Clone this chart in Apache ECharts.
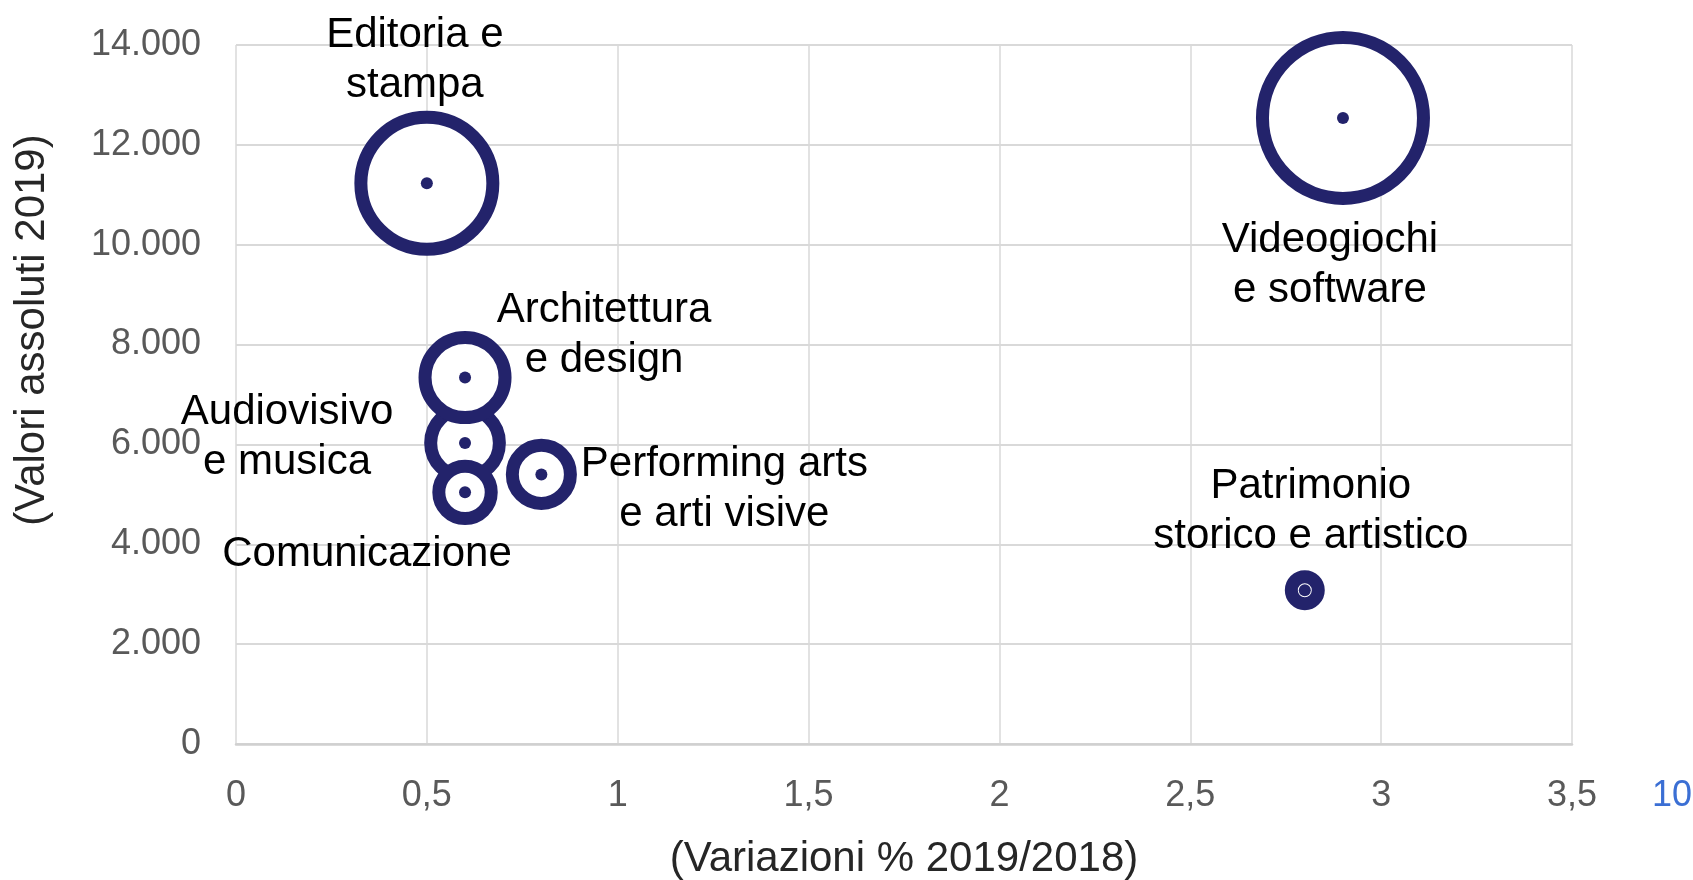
<!DOCTYPE html>
<html>
<head>
<meta charset="utf-8">
<script src="https://cdn.jsdelivr.net/npm/echarts@6.0.0/dist/echarts.min.js"></script>
<style>
  html, body { margin: 0; padding: 0; background: #fff; }
  #chart { width: 1693px; height: 880px; }
</style>
</head>
<body>
<div id="chart"></div>
<script>
// Settori (ordine di disegno: le bolle dopo stanno sopra)
const settori = [
  'Audiovisivo\ne musica',
  'Architettura\ne design',
  'Comunicazione',
  'Editoria e\nstampa',
  'Patrimonio\nstorico e artistico',
  'Performing arts\ne arti visive',
  'Videogiochi\ne software'
];
// (Variazioni % 2019/2018)
const variazioni = [0.6, 0.6, 0.6, 0.5, 2.8, 0.8, 2.9];
// (Valori assoluti 2019)
const valori = [6030, 7340, 5040, 11230, 3080, 5400, 12540];
// Dimensione relativa della bolla (area, max = 100)
const dimensioni = [18.2, 24.7, 10.6, 67.2, 2.8, 13.0, 100];

const xTickLabels = ['0', '0,5', '1', '1,5', '2', '2,5', '3', '3,5'];
const yTickLabels = ['0', '2.000', '4.000', '6.000', '8.000', '10.000', '12.000', '14.000'];

const navy = '#23236b';
const font = '"Liberation Sans", Arial, sans-serif';
const maxBubble = 161;

// Where each label sits relative to its bubble centre
const labelOffsets = {
  'Audiovisivo\ne musica': [-178, -6],
  'Architettura\ne design': [139, -42],
  'Comunicazione': [-98, 62],
  'Editoria e\nstampa': [-12, -123],
  'Patrimonio\nstorico e artistico': [6, -79],
  'Performing arts\ne arti visive': [183, 15],
  'Videogiochi\ne software': [-13, 148]
};

const chart = echarts.init(document.getElementById('chart'));

const bubbleData = settori.map((name, i) => ({
  name: name,
  value: [variazioni[i], valori[i], dimensioni[i]],
  label: { offset: labelOffsets[name] }
}));
const dotData = settori.map((name, i) => [variazioni[i], valori[i]]);

chart.setOption({
  animation: false,
  grid: { left: 236, right: 121, top: 45, bottom: 136, containLabel: false },
  xAxis: {
    type: 'value',
    min: 0,
    max: 3.5,
    interval: 0.5,
    axisLine: { show: true, lineStyle: { color: '#d0d0d0', width: 2.5 } },
    axisTick: { show: false },
    axisLabel: {
      margin: 34,
      fontSize: 36,
      fontFamily: font,
      color: '#595959',
      formatter: v => xTickLabels[Math.round(v / 0.5)]
    },
    splitLine: { show: true, lineStyle: { color: '#d9d9d9', width: 1.5 } }
  },
  yAxis: {
    type: 'value',
    min: 0,
    max: 14000,
    interval: 2000,
    axisLine: { show: false },
    axisTick: { show: false },
    axisLabel: {
      margin: 35,
      fontSize: 36,
      fontFamily: font,
      color: '#595959',
      padding: [5, 0, 0, 0],
      formatter: v => yTickLabels[Math.round(v / 2000)]
    },
    splitLine: { show: true, lineStyle: { color: '#d9d9d9', width: 2 } }
  },
  series: [
    {
      type: 'scatter',
      data: bubbleData,
      symbol: 'circle',
      symbolSize: val => maxBubble * Math.sqrt(val[2] / 100),
      itemStyle: { color: '#fff', borderColor: navy, borderWidth: 13, opacity: 1 },
      label: {
        show: true,
        position: 'inside',
        formatter: p => p.name,
        fontSize: 42,
        lineHeight: 50,
        fontFamily: font,
        color: '#000',
        align: 'center',
        verticalAlign: 'middle'
      },
      emphasis: { disabled: true },
      silent: true
    },
    {
      type: 'scatter',
      data: dotData,
      symbol: 'circle',
      symbolSize: 12,
      itemStyle: { color: navy, opacity: 1 },
      emphasis: { disabled: true },
      silent: true,
      z: 3
    }
  ],
  graphic: [
    {
      type: 'text',
      x: 32,
      y: 330,
      rotation: Math.PI / 2,
      style: {
        text: '(Valori assoluti 2019)',
        font: '42px ' + font,
        fill: '#262626',
        align: 'center',
        verticalAlign: 'middle'
      }
    },
    {
      type: 'text',
      x: 904,
      y: 859,
      style: {
        text: '(Variazioni % 2019/2018)',
        font: '42px ' + font,
        fill: '#262626',
        align: 'center',
        verticalAlign: 'middle'
      }
    },
    {
      type: 'text',
      x: 1652,
      y: 796,
      style: {
        text: '10',
        font: '36px ' + font,
        fill: '#3b6fd4',
        align: 'left',
        verticalAlign: 'middle'
      }
    }
  ]
});

window.addEventListener('resize', () => chart.resize());
</script>
</body>
</html>
